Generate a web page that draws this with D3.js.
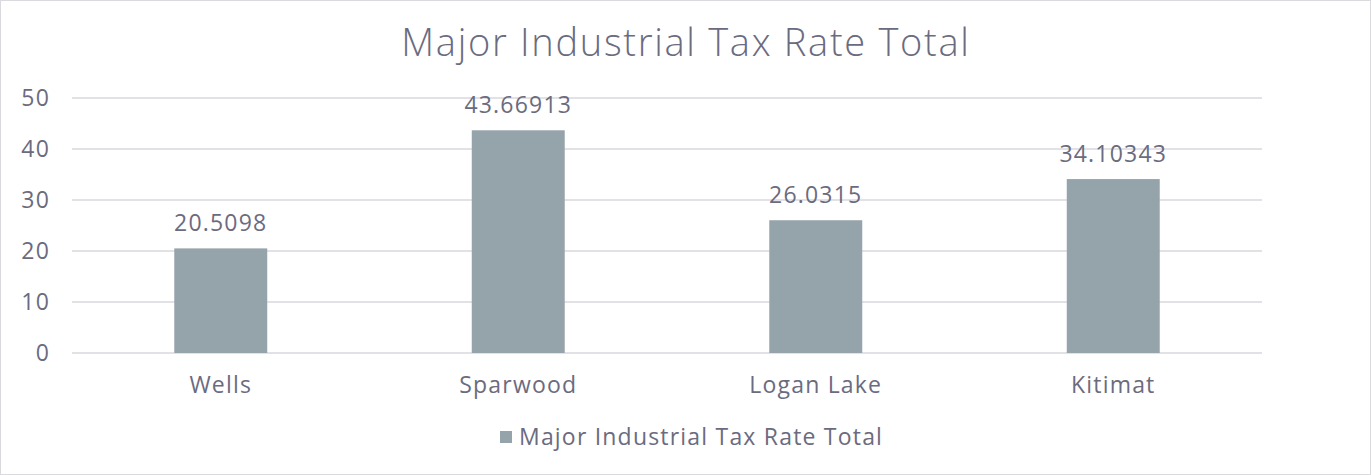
<!DOCTYPE html>
<html>
<head>
<meta charset="utf-8">
<script src="https://cdn.jsdelivr.net/npm/d3@7"></script>
<style>
    body { margin: 0; background: #fff; }
    svg text { font-family: "Open Sans", sans-serif; fill: #6b6b80; letter-spacing: 1.2px; }
</style>
</head>
<body>
<svg id="chart"></svg>
<script>
// chart data
const categories = ['Wells', 'Sparwood', 'Logan Lake', 'Kitimat'];
const values = [20.5098, 43.66913, 26.0315, 34.10343];
const valueLabels = ['20.5098', '43.66913', '26.0315', '34.10343'];
const yTicks = [0, 10, 20, 30, 40, 50];
const seriesName = 'Major Industrial Tax Rate Total';
const chartTitle = 'Major Industrial Tax Rate Total';

function drawChart() {
    const width = 1371;
    const height = 475;
    const margin = { top: 98, right: 109, bottom: 122, left: 72 };

    const svg = d3.select('#chart')
        .attr('width', width)
        .attr('height', height);

    // outer border
    svg.append('rect')
        .attr('x', 0.5).attr('y', 0.5)
        .attr('width', width - 1).attr('height', height - 1)
        .attr('fill', '#fff')
        .attr('stroke', '#d9d9de');

    const x = d3.scaleBand()
        .domain(categories)
        .range([margin.left, width - margin.right])
        .padding(0);

    const y = d3.scaleLinear()
        .domain([0, 50])
        .range([height - margin.bottom, margin.top]);

    const barWidth = x.bandwidth() * 0.3125;

    // gridlines
    svg.append('g')
        .selectAll('line')
        .data(yTicks)
        .enter().append('line')
        .attr('x1', margin.left)
        .attr('x2', width - margin.right)
        .attr('y1', d => y(d))
        .attr('y2', d => y(d))
        .attr('stroke', '#d9d9de')
        .attr('stroke-width', 1.5);

    // y tick labels
    svg.append('g')
        .selectAll('text')
        .data(yTicks)
        .enter().append('text')
        .attr('x', 50)
        .attr('y', d => y(d))
        .attr('dy', '0.35em')
        .attr('text-anchor', 'end')
        .style('font-size', '23px')
        .text(d => d);

    // bars
    svg.append('g')
        .selectAll('rect')
        .data(values)
        .enter().append('rect')
        .attr('x', (d, i) => x(categories[i]) + x.bandwidth() / 2 - barWidth / 2)
        .attr('y', d => y(d))
        .attr('width', barWidth)
        .attr('height', d => y(0) - y(d))
        .attr('fill', '#95a3ab');

    // value labels
    svg.append('g')
        .selectAll('text')
        .data(values)
        .enter().append('text')
        .attr('x', (d, i) => x(categories[i]) + x.bandwidth() / 2)
        .attr('y', d => y(d) - 17)
        .attr('text-anchor', 'middle')
        .style('font-size', '23px')
        .text((d, i) => valueLabels[i]);

    // category labels
    svg.append('g')
        .selectAll('text')
        .data(categories)
        .enter().append('text')
        .attr('x', d => x(d) + x.bandwidth() / 2)
        .attr('y', y(0) + 40)
        .attr('text-anchor', 'middle')
        .style('font-size', '23px')
        .text(d => d);

    // title
    svg.append('text')
        .attr('x', 686)
        .attr('y', 56)
        .attr('text-anchor', 'middle')
        .style('font-size', '38px')
        .style('font-weight', 300)
        .style('letter-spacing', '1.7px')
        .text(chartTitle);

    // legend
    const legend = svg.append('g');
    legend.append('rect')
        .attr('x', 500).attr('y', 431)
        .attr('width', 12).attr('height', 12)
        .attr('fill', '#95a3ab');
    legend.append('text')
        .attr('x', 519)
        .attr('y', 445)
        .style('font-size', '23px')
        .text(seriesName);
}

drawChart();
</script>
</body>
</html>
